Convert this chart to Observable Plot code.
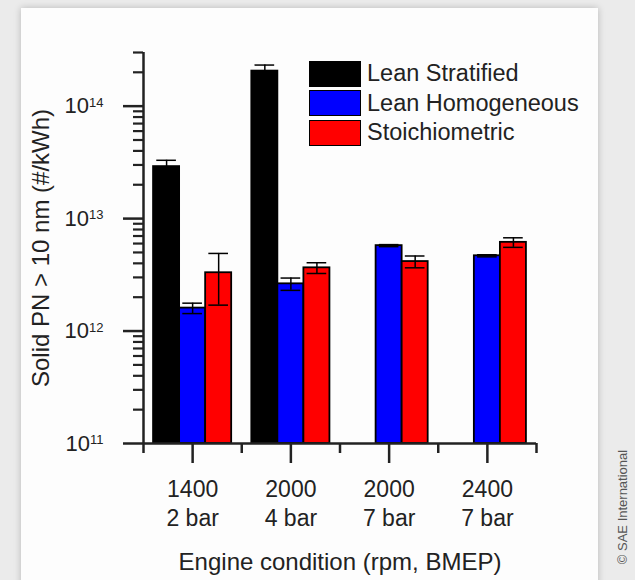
<!DOCTYPE html>
<html><head><meta charset="utf-8">
<script src="https://cdn.jsdelivr.net/npm/d3@7"></script>
<script src="https://cdn.jsdelivr.net/npm/@observablehq/plot@0.6"></script>
<style>
body{margin:0;background:#ebebeb;}
#wrap{position:relative;width:635px;height:580px;overflow:hidden;background:#ebebeb;font-family:"Liberation Sans",Arial,sans-serif;}
#panel{position:absolute;left:21px;top:8px;width:577px;height:620px;background:#fdfdfd;box-shadow:0 0 7px rgba(0,0,0,0.22);}
#chart{position:absolute;left:0;top:0;}
#legend{position:absolute;left:309px;top:59px;}
.row{display:flex;align-items:center;height:29.5px;}
.sw{width:50px;height:24px;border:1.8px solid #000;margin-right:6px;box-sizing:content-box;}
.lab{font-size:23.5px;color:#222;line-height:1;}
#sae{position:absolute;left:622px;top:507px;transform:translate(-50%,-50%) rotate(-90deg);white-space:nowrap;font-size:13px;color:#555;}
</style>
</head><body>
<div id="wrap">
  <div id="panel"></div>
  <div id="chart"></div>
  <div id="legend"></div>
  <div id="sae">© SAE International</div>
</div>
<script>
// ---- data ----
const rpm = [1400, 2000, 2000, 2400];
const bmep = ["2 bar", "4 bar", "7 bar", "7 bar"];
const conditionIndex = [0, 1, 2, 3];
const boundaries = [-0.5, 0.5, 1.5, 2.5, 3.5];
const seriesNames = ["Lean Stratified", "Lean Homogeneous", "Stoichiometric"];
const seriesColors = ["#000000", "#0000ff", "#ff0000"];
const leanStratified = [2.9e13, 2.05e14, null, null];
const leanStratifiedSD = [0.4e13, 0.27e14, null, null];
const leanHomogeneous = [1.6e12, 2.63e12, 5.75e12, 4.67e12];
const leanHomogeneousSD = [0.17e12, 0.33e12, 0.12e12, 0.1e12];
const stoichiometric = [3.3e12, 3.65e12, 4.15e12, 6.15e12];
const stoichiometricSD = [1.6e12, 0.4e12, 0.5e12, 0.6e12];
const yMajorTicks = [1e11, 1e12, 1e13, 1e14];
const yMinorTicks = [];
for (let e = 11; e <= 14; e++) for (let m = 2; m <= 9; m++) { const v = m * 10 ** e; if (v <= 3e14) yMinorTicks.push(v); }
const yLabel = "Solid PN > 10 nm (#/kWh)";
const xLabel = "Engine condition (rpm, BMEP)";

const values = [leanStratified, leanHomogeneous, stoichiometric];
const sds = [leanStratifiedSD, leanHomogeneousSD, stoichiometricSD];
const rows = [];
seriesNames.forEach((s, k) => conditionIndex.forEach(i => {
  if (values[k][i] != null) rows.push({i, k, series: s, value: values[k][i], sd: sds[k][i]});
}));
const bw = 0.265;   // bar width in band units
const cap = 0.2;    // error cap width
const cx = d => d.i + (d.k - 1) * bw;

const chart = Plot.plot({
  width: 635, height: 580,
  marginLeft: 143, marginRight: 99, marginTop: 52, marginBottom: 137,
  style: {background: "transparent", fontFamily: '"Liberation Sans", Arial, sans-serif', color: "#222"},
  x: {type: "linear", domain: [-0.5, 3.5]},
  y: {type: "log", domain: [1e11, 3e14]},
  color: {domain: seriesNames, range: seriesColors},
  marks: [
    Plot.rectY(rows, {x1: d => cx(d) - bw / 2, x2: d => cx(d) + bw / 2, y1: 1e11, y2: "value", fill: "series", stroke: "#000", strokeWidth: 1.8}),
    Plot.ruleX(rows, {x: cx, y1: d => d.value - d.sd, y2: d => d.value + d.sd, stroke: "#000", strokeWidth: 1.5}),
    Plot.ruleY(rows, {y: d => d.value + d.sd, x1: d => cx(d) - cap / 2, x2: d => cx(d) + cap / 2, stroke: "#000", strokeWidth: 1.5}),
    Plot.ruleY(rows, {y: d => d.value - d.sd, x1: d => cx(d) - cap / 2, x2: d => cx(d) + cap / 2, stroke: "#000", strokeWidth: 1.5}),
    Plot.axisY({ticks: yMinorTicks, tickSize: 10, tickFormat: () => "", label: null, strokeWidth: 2.2}),
    Plot.axisY({ticks: yMajorTicks, tickSize: 20, tickPadding: 20, strokeWidth: 2.5, fontSize: 22,
      tickFormat: d => "10^" + Math.round(Math.log10(d)),
      label: yLabel, labelAnchor: "center", labelOffset: 112, labelArrow: "none"}),
    Plot.axisX({ticks: boundaries, tickSize: 10, tickFormat: () => "", label: null, strokeWidth: 2.5}),
    Plot.axisX({ticks: conditionIndex, tickSize: 20, tickPadding: 13, strokeWidth: 2.5, fontSize: 23, lineHeight: 1.26,
      tickFormat: i => rpm[i] + "\n" + bmep[i],
      label: xLabel, labelAnchor: "center", labelOffset: 126, labelArrow: "none"}),
    Plot.ruleX([-0.5], {strokeWidth: 2.5}),
    Plot.ruleY([1e11], {strokeWidth: 2.5})
  ]
});
document.getElementById("chart").appendChild(chart);

// superscript exponents on y tick labels
d3.select(chart).selectAll('g[aria-label="y-axis tick label"] text').each(function () {
  const t = this.textContent;
  if (!t.includes("^")) return;
  const [base, exp] = t.split("^");
  const sel = d3.select(this);
  sel.text("");
  sel.append("tspan").text(base);
  sel.append("tspan").attr("dy", "-0.5em").attr("font-size", "13px").text(exp);
});
// slightly larger axis titles
d3.select(chart).selectAll('g[aria-label="y-axis label"] text').attr("font-size", 24);
d3.select(chart).selectAll('g[aria-label="x-axis label"] text').attr("font-size", 24);

// legend
const legend = d3.select("#legend");
seriesNames.forEach((s, k) => {
  const row = legend.append("div").attr("class", "row");
  row.append("div").attr("class", "sw").style("background", seriesColors[k]);
  row.append("div").attr("class", "lab").text(s);
});
</script>
</body></html>
